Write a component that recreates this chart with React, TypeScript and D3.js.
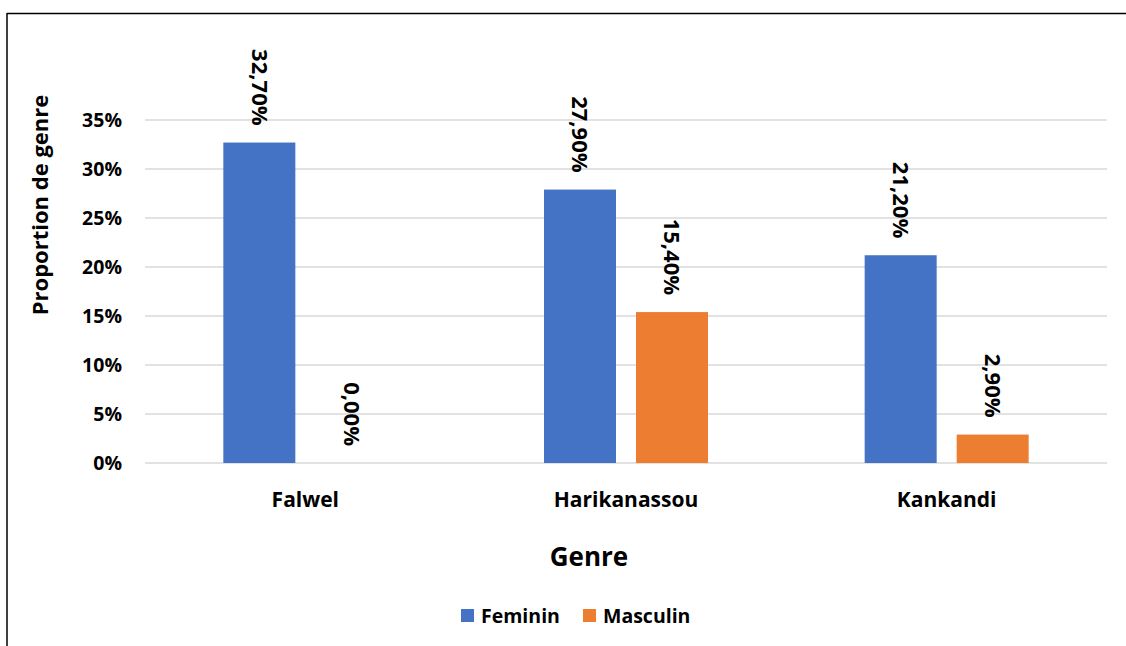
import React from "react";
import * as d3 from "d3";

const categories = ["Falwel", "Harikanassou", "Kankandi"];
const seriesNames = ["Feminin", "Masculin"];
const feminin = [32.7, 27.9, 21.2];
const masculin = [0.0, 15.4, 2.9];
const yTicks = [0, 5, 10, 15, 20, 25, 30, 35];
const colors = ["#4472C4", "#ED7D31"];

const W = 1126;
const H = 646;
const FONT = "'Open Sans', Lato, sans-serif";

export default function App() {
  const left = 145, right = 1107, top = 120, bottom = 463;
  const y = d3.scaleLinear().domain([0, 35]).range([bottom, top]);
  const x0 = d3.scaleBand<string>().domain(categories).range([left, right]).paddingInner(0).paddingOuter(0);
  const bw = x0.bandwidth();
  const barW = 72;
  const gap = 20;
  const x1 = d3
    .scaleOrdinal<string, number>()
    .domain(seriesNames)
    .range([bw / 2 - gap / 2 - barW, bw / 2 + gap / 2]);
  const data = [feminin, masculin];
  const fmt = (v: number) => v.toFixed(2).replace(".", ",") + "%";

  return (
    <svg width={W} height={H} style={{ position: "absolute", left: 0, top: 0, background: "#fff" }} fontFamily={FONT}>
      <rect x={0} y={0} width={W} height={H} fill="#fff" />
      <line x1={7} y1={13.5} x2={W} y2={13.5} stroke="#000" strokeWidth={1.5} />
      <line x1={7} y1={13} x2={7} y2={H} stroke="#000" strokeWidth={1.5} />
      {yTicks.map((t) => (
        <g key={t}>
          <line x1={left} x2={right} y1={y(t)} y2={y(t)} stroke="#d9d9d9" strokeWidth={1.3} />
          <text x={122} y={y(t)} dy="0.35em" textAnchor="end" fontSize={19.5} fontWeight={700} fill="#000">
            {t}%
          </text>
        </g>
      ))}
      {seriesNames.map((s, si) =>
        categories.map((c, ci) => {
          const v = data[si][ci];
          const bx = (x0(c) as number) + (x1(s) as number);
          const cx = bx + barW / 2;
          const ly = y(v) - 17;
          return (
            <g key={s + c}>
              {v > 0 && <rect x={bx} y={y(v)} width={barW} height={bottom - y(v)} fill={colors[si]} />}
              <text
                transform={`translate(${cx},${ly}) rotate(90)`}
                textAnchor="end"
                dy="0.35em"
                fontSize={22}
                fontWeight={700}
                fill="#000"
              >
                {fmt(v)}
              </text>
            </g>
          );
        })
      )}
      {categories.map((c) => (
        <text key={c} x={(x0(c) as number) + bw / 2} y={500} dy="0.35em" textAnchor="middle" fontSize={21} fontWeight={700} fill="#000">
          {c}
        </text>
      ))}
      <text x={589} y={557} dy="0.35em" textAnchor="middle" fontSize={26} fontWeight={700} fill="#000">
        Genre
      </text>
      <text transform={`translate(40,205) rotate(-90)`} textAnchor="middle" dy="0.35em" fontSize={22} fontWeight={700} fill="#000">
        Proportion de genre
      </text>
      {seriesNames.map((s, i) => {
        const lx = i === 0 ? 461 : 583;
        return (
          <g key={s}>
            <rect x={lx} y={609} width={13} height={13} fill={colors[i]} />
            <text x={lx + 20} y={616} dy="0.35em" fontSize={19.5} fontWeight={700} fill="#000">
              {s}
            </text>
          </g>
        );
      })}
    </svg>
  );
}
